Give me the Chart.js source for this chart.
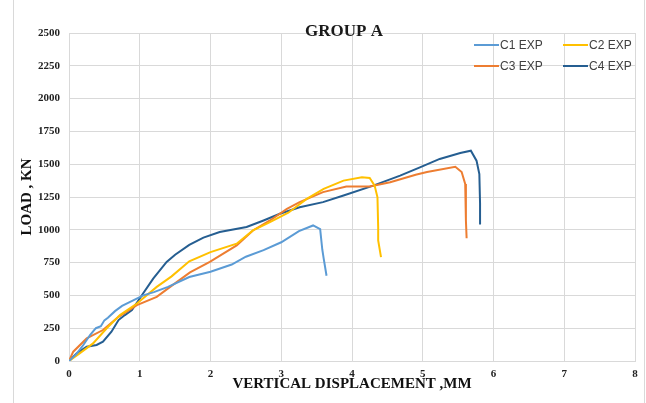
<!DOCTYPE html>
<html>
<head>
<meta charset="utf-8">
<script src="https://cdn.jsdelivr.net/npm/chart.js@4/dist/chart.umd.min.js"></script>
<style>
  html, body { margin: 0; padding: 0; background: #fff; }
  #wrap { width: 646px; height: 403px; position: relative; }
</style>
</head>
<body>
<div id="wrap"><canvas id="chart"></canvas></div>
<script>
// values (displacement mm, load kN)
const seriesNames = ["C1 EXP", "C2 EXP", "C3 EXP", "C4 EXP"];
const seriesColors = ["#5B9BD5", "#FFC000", "#ED7D31", "#255E91"];

const c1X = [0, 0.1, 0.2, 0.3, 0.38, 0.45, 0.5, 0.55, 0.65, 0.75, 0.9, 1.05, 1.2, 1.4, 1.7, 2.0, 2.3, 2.5, 2.75, 3.0, 3.25, 3.45, 3.55, 3.58, 3.6, 3.64];
const c1Y = [0, 50, 120, 200, 250, 265, 310, 330, 380, 420, 460, 500, 525, 565, 640, 680, 735, 795, 845, 905, 990, 1033, 1005, 850, 780, 650];

const c2X = [0, 0.15, 0.34, 0.53, 0.72, 0.96, 1.24, 1.45, 1.7, 2.0, 2.37, 2.6, 2.84, 3.1, 3.36, 3.6, 3.88, 4.14, 4.25, 4.32, 4.36, 4.37, 4.37, 4.41];
const c2Y = [0, 58, 134, 248, 350, 438, 565, 645, 760, 830, 894, 995, 1058, 1130, 1236, 1312, 1375, 1400, 1395, 1337, 1248, 1020, 919, 792];

const c3X = [0, 0.06, 0.25, 0.48, 0.7, 0.96, 1.24, 1.43, 1.71, 1.99, 2.37, 2.6, 2.84, 3.08, 3.26, 3.59, 3.92, 4.25, 4.54, 4.9, 5.06, 5.46, 5.55, 5.6, 5.61, 5.62];
const c3Y = [0, 71, 172, 236, 337, 426, 489, 565, 675, 755, 881, 995, 1071, 1160, 1211, 1287, 1330, 1330, 1362, 1420, 1440, 1480, 1440, 1350, 1071, 935];

const c4X = [0, 0.11, 0.25, 0.39, 0.48, 0.6, 0.7, 0.79, 0.89, 1.03, 1.19, 1.38, 1.5, 1.7, 1.9, 2.13, 2.51, 2.75, 2.98, 3.26, 3.59, 3.88, 4.3, 4.68, 4.96, 5.24, 5.53, 5.68, 5.76, 5.8, 5.81, 5.81];
const c4Y = [0, 58, 109, 122, 147, 223, 312, 350, 388, 501, 628, 755, 810, 885, 940, 983, 1021, 1071, 1122, 1172, 1211, 1261, 1337, 1413, 1476, 1540, 1585, 1603, 1527, 1425, 1200, 1040];

const xs = [c1X, c2X, c3X, c4X];
const ys = [c1Y, c2Y, c3Y, c4Y];

const serif = "'Liberation Serif', 'Times New Roman', serif";

// title + legend drawn inside the plot area, like the excel original
const overlay = {
  id: "overlay",
  afterDraw(chart) {
    const ctx = chart.ctx;
    ctx.save();
    ctx.fillStyle = "#1a1a1a";
    ctx.font = "bold 17px " + serif;
    ctx.textAlign = "center";
    ctx.textBaseline = "middle";
    ctx.fillText("GROUP A", 344, 32);

    ctx.font = "12px 'Liberation Sans', Arial, sans-serif";
    ctx.textAlign = "left";
    const cols = [474, 563];
    const rows = [45, 66];
    chart.data.datasets.forEach((ds, i) => {
      const x = cols[i % 2], y = rows[Math.floor(i / 2)];
      ctx.strokeStyle = ds.borderColor;
      ctx.lineWidth = 2;
      ctx.beginPath();
      ctx.moveTo(x, y);
      ctx.lineTo(x + 25, y);
      ctx.stroke();
      ctx.fillStyle = "#404040";
      ctx.fillText(ds.label, x + 26, y + 1);
    });

    // outer frame
    ctx.strokeStyle = "#d9d9d9";
    ctx.lineWidth = 1;
    ctx.beginPath();
    ctx.moveTo(13.5, 0);
    ctx.lineTo(13.5, 403);
    ctx.moveTo(644.5, 0);
    ctx.lineTo(644.5, 403);
    ctx.stroke();
    ctx.restore();
  }
};

new Chart(document.getElementById("chart"), {
  type: "scatter",
  data: {
    datasets: seriesNames.map((name, i) => ({
      label: name,
      data: xs[i].map((x, j) => ({ x: x, y: ys[i][j] })),
      showLine: true,
      borderColor: seriesColors[i],
      backgroundColor: seriesColors[i],
      borderWidth: 2,
      pointRadius: 0,
      tension: 0
    }))
  },
  options: {
    responsive: true,
    maintainAspectRatio: false,
    animation: false,
    layout: { padding: { top: 33, right: 11, left: 0, bottom: 0 } },
    plugins: {
      legend: { display: false },
      title: { display: false },
      tooltip: { enabled: false }
    },
    scales: {
      x: {
        type: "linear",
        min: 0,
        max: 8,
        ticks: {
          stepSize: 1,
          padding: 7,
          color: "#222",
          font: { family: serif, size: 11, weight: "bold" },
          callback: v => String(v)
        },
        grid: { color: "#d9d9d9", drawTicks: false },
        border: { color: "#d9d9d9" },
        title: {
          display: true,
          text: "VERTICAL DISPLACEMENT ,MM",
          color: "#111",
          font: { family: serif, size: 15, weight: "bold" },
          padding: { top: 0, bottom: 10 }
        },
        afterFit(scale) { scale.height = 42; }
      },
      y: {
        min: 0,
        max: 2500,
        ticks: {
          stepSize: 250,
          padding: 9,
          color: "#222",
          font: { family: serif, size: 11, weight: "bold" },
          callback: v => String(v)
        },
        grid: { color: "#d9d9d9", drawTicks: false },
        border: { color: "#d9d9d9" },
        title: {
          display: true,
          text: "LOAD , KN",
          color: "#111",
          font: { family: serif, size: 15, weight: "bold" },
          padding: { top: 18, bottom: 0 }
        },
        afterFit(scale) { scale.width = 69; }
      }
    }
  },
  plugins: [overlay]
});
</script>
</body>
</html>
